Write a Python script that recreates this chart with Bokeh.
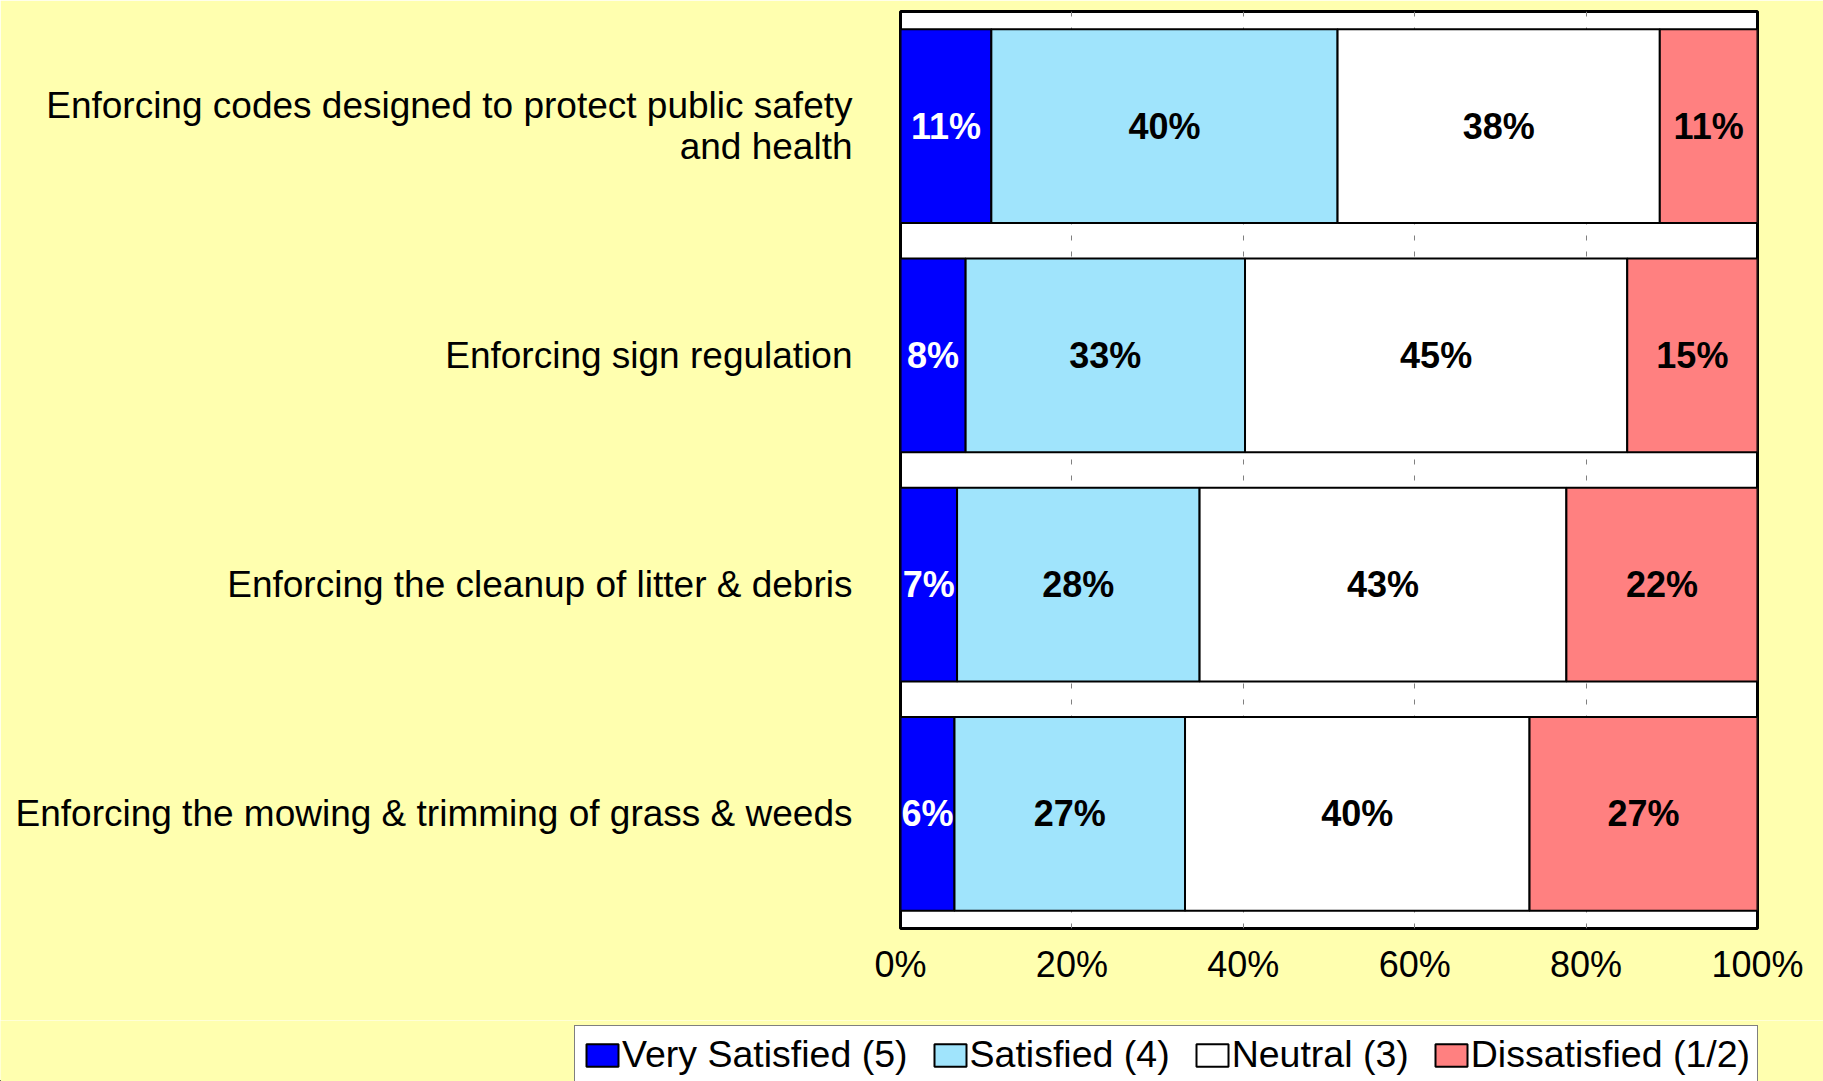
from bokeh.plotting import figure
from bokeh.layouts import column, row
from bokeh.models import ColumnDataSource, FactorRange, Legend, LegendItem, Range1d, FixedTicker
from bokeh.core.properties import value
from bokeh.embed import file_html
from bokeh.resources import INLINE

categories = [
    "Enforcing codes designed to protect public safety\nand health",
    "Enforcing sign regulation",
    "Enforcing the cleanup of litter & debris",
    "Enforcing the mowing & trimming of grass & weeds",
]
series_names = ["Very Satisfied (5)", "Satisfied (4)", "Neutral (3)", "Dissatisfied (1/2)"]
very_satisfied = [10.6, 7.6, 6.6, 6.3]
satisfied = [40.4, 32.6, 28.3, 26.9]
neutral = [37.6, 44.6, 42.8, 40.2]
dissatisfied = [11.4, 15.2, 22.3, 26.6]
x_ticks = [0, 20, 40, 60, 80, 100]
x_tick_labels = ["0%", "20%", "40%", "60%", "80%", "100%"]

colors = ["#0000FF", "#A0E4FC", "#FFFFFF", "#FF8080"]
label_colors = ["#FFFFFF", "#000000", "#000000", "#000000"]
FONT = "Liberation Sans"
BG = "#FFFFAF"

series = [very_satisfied, satisfied, neutral, dissatisfied]

p = figure(
    width=1823, height=1020,
    y_range=FactorRange(factors=list(reversed(categories)), range_padding=0),
    x_range=Range1d(0, 100),
    output_backend="svg", toolbar_location=None,
    min_border_left=900, min_border_right=66, min_border_top=11, min_border_bottom=92,
)
p.background_fill_color = "white"
p.border_fill_color = BG
p.outline_line_color = "black"
p.outline_line_width = 3

left = [0.0] * len(categories)
for i, vals in enumerate(series):
    right = [l + v for l, v in zip(left, vals)]
    mid = [(l + r) / 2 for l, r in zip(left, right)]
    src = ColumnDataSource(dict(
        cat=categories, left=left, right=right, mid=mid,
        txt=[f"{round(v)}%" for v in vals],
    ))
    p.hbar(y="cat", left="left", right="right", height=0.846, source=src,
           fill_color=colors[i], line_color="black", line_width=2)
    p.text(x="mid", y="cat", text="txt", source=src, text_align="center",
           text_baseline="middle", text_color=label_colors[i],
           text_font=value(FONT), text_font_style="bold", text_font_size="36px")
    left = right

p.xgrid.grid_line_color = "#808080"
p.xgrid.grid_line_dash = "5 11"
p.xgrid.grid_line_width = 1
p.ygrid.grid_line_color = None

p.xaxis.ticker = FixedTicker(ticks=x_ticks)
p.xaxis.major_label_overrides = {t: l for t, l in zip(x_ticks, x_tick_labels)}
p.xaxis.major_label_text_font = FONT
p.xaxis.major_label_text_font_size = "36px"
p.xaxis.major_label_text_color = "black"
p.xaxis.major_label_standoff = 9
p.xaxis.axis_line_color = None
p.xaxis.major_tick_line_color = None
p.xaxis.minor_tick_line_color = None

p.yaxis.major_label_text_font = FONT
p.yaxis.major_label_text_font_size = "37px"
p.yaxis.major_label_text_color = "black"
p.yaxis.major_label_text_line_height = 1.0
p.yaxis.major_label_standoff = 42
p.yaxis.axis_line_color = None
p.yaxis.major_tick_line_color = None
p.yaxis.minor_tick_line_color = None

# legend strip below the chart (its own small figure, frame = whole strip)
lg = figure(
    width=1823, height=61, output_backend="svg", toolbar_location=None,
    x_axis_type=None, y_axis_type=None,
    min_border_left=0, min_border_right=0, min_border_top=0, min_border_bottom=0,
    x_range=Range1d(0, 1), y_range=Range1d(0, 1),
)
lg.background_fill_color = BG
lg.border_fill_color = BG
lg.outline_line_color = None
lg.xgrid.grid_line_color = None
lg.ygrid.grid_line_color = None

items = []
for name, c in zip(series_names, colors):
    # legend swatch source: kept outside the visible range of the strip
    swatch = ColumnDataSource(dict(y=[-10], left=[-10], right=[-9]))
    r = lg.hbar(y="y", left="left", right="right", height=0.5, source=swatch,
                fill_color=c, line_color="black", line_width=2)
    items.append(LegendItem(label=name, renderers=[r]))

legend = Legend(
    items=items, orientation="horizontal", location=(574, -3),
    label_text_font=FONT, label_text_font_size="37.5px", label_text_color="black",
    glyph_width=40, glyph_height=28, label_standoff=0, spacing=22, padding=7,
    border_line_color="black", border_line_width=1, background_fill_color="white",
    background_fill_alpha=1.0, margin=0,
)
lg.add_layout(legend, "center")

layout = column(p, row(lg, spacing=0), spacing=0)
open("out.html", "w").write(file_html(layout, INLINE))
